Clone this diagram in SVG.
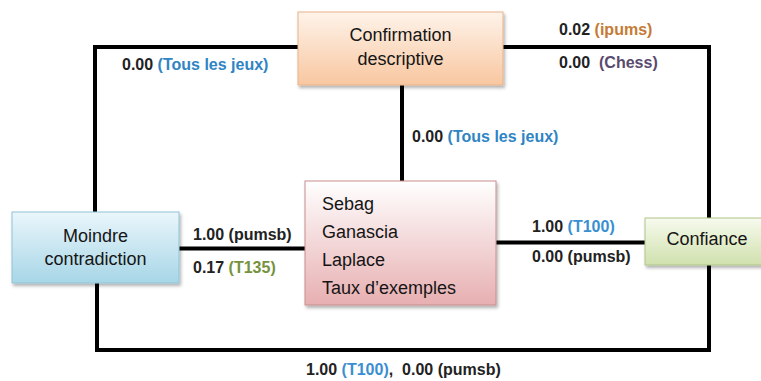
<svg xmlns="http://www.w3.org/2000/svg" width="761" height="381" viewBox="0 0 761 381">
<style>
.node{font-family:"Liberation Sans",Arial,sans-serif;font-size:18px;fill:#151515}
.lbl{font-family:"Liberation Sans",Arial,sans-serif;font-size:16px;font-weight:bold;fill:#222}
.conn{fill:none;stroke:#000;stroke-width:4;stroke-linejoin:miter}
.blue{fill:#2F84C4}
.blue2{fill:#3A8FD2}
.orange{fill:#C57A35}
.purple{fill:#5A4A6E}
.green{fill:#76923C}
</style>
<defs>
<linearGradient id="gOrange" x1="0" y1="0" x2="0" y2="1">
<stop offset="0" stop-color="#FEF3EA"/>
<stop offset="1" stop-color="#F8C7A0"/>
</linearGradient>
<linearGradient id="gPink" x1="0" y1="0" x2="0" y2="1">
<stop offset="0" stop-color="#FFFFFF"/>
<stop offset="1" stop-color="#E7AFB1"/>
</linearGradient>
<linearGradient id="gBlue" x1="0" y1="0" x2="0" y2="1">
<stop offset="0" stop-color="#EAF6FB"/>
<stop offset="1" stop-color="#A7D6E7"/>
</linearGradient>
<linearGradient id="gGreen" x1="0" y1="0" x2="0" y2="1">
<stop offset="0" stop-color="#F7FAEE"/>
<stop offset="1" stop-color="#D0E1AD"/>
</linearGradient>
<filter id="sh" x="-10%" y="-10%" width="125%" height="130%">
<feDropShadow dx="1.5" dy="2.5" stdDeviation="1.5" flood-color="#000" flood-opacity="0.3"/>
</filter>
</defs>
<rect width="761" height="381" fill="#fff"/>
<g id="connectors">
<path class="conn" d="M298,47 H95 V212"/>
<path class="conn" d="M503,47 H709 V218"/>
<path class="conn" d="M402,85 V181"/>
<path class="conn" d="M179,248.5 H305"/>
<path class="conn" d="M496,242.5 H645"/>
<path class="conn" d="M97,283 V350 H709 V265"/>
</g>
<g id="confirmation">
<rect x="298" y="12" width="205" height="73" fill="url(#gOrange)" stroke="#E7B48C" stroke-width="1" filter="url(#sh)"/>
<text class="node" x="400.5" y="41" text-anchor="middle">Confirmation</text>
<text class="node" x="400.5" y="65" text-anchor="middle">descriptive</text>
</g>
<g id="mesures">
<rect x="305" y="181" width="191" height="124" fill="url(#gPink)" stroke="#C98E90" stroke-width="1" filter="url(#sh)"/>
<text class="node" x="322" y="210">Sebag</text>
<text class="node" x="322" y="238">Ganascia</text>
<text class="node" x="322" y="266">Laplace</text>
<text class="node" x="322" y="294">Taux d’exemples</text>
</g>
<g id="moindre">
<rect x="12" y="212" width="167" height="71" fill="url(#gBlue)" stroke="#8FC4D6" stroke-width="1" filter="url(#sh)"/>
<text class="node" x="95.5" y="242" text-anchor="middle">Moindre</text>
<text class="node" x="95.5" y="265" text-anchor="middle">contradiction</text>
</g>
<g id="confiance">
<rect x="645" y="218" width="124" height="47" fill="url(#gGreen)" stroke="#AFC58A" stroke-width="1" filter="url(#sh)"/>
<text class="node" x="707" y="245" text-anchor="middle">Confiance</text>
</g>
<g id="labels">
<text class="lbl" x="122" y="70">0.00 <tspan class="blue">(Tous les jeux)</tspan></text>
<text class="lbl" x="559" y="35">0.02 <tspan class="orange">(ipums)</tspan></text>
<text class="lbl" x="559" y="68">0.00&#160; <tspan class="purple">(Chess)</tspan></text>
<text class="lbl" x="412" y="142">0.00 <tspan class="blue">(Tous les jeux)</tspan></text>
<text class="lbl" x="193" y="240">1.00 (pumsb)</text>
<text class="lbl" x="193" y="273">0.17 <tspan class="green">(T135)</tspan></text>
<text class="lbl" x="532" y="232">1.00 <tspan class="blue2">(T100)</tspan></text>
<text class="lbl" x="532" y="262">0.00 (pumsb)</text>
<text class="lbl" x="306" y="375">1.00 <tspan class="blue2">(T100)</tspan>,&#160; 0.00 (pumsb)</text>
</g>
</svg>
